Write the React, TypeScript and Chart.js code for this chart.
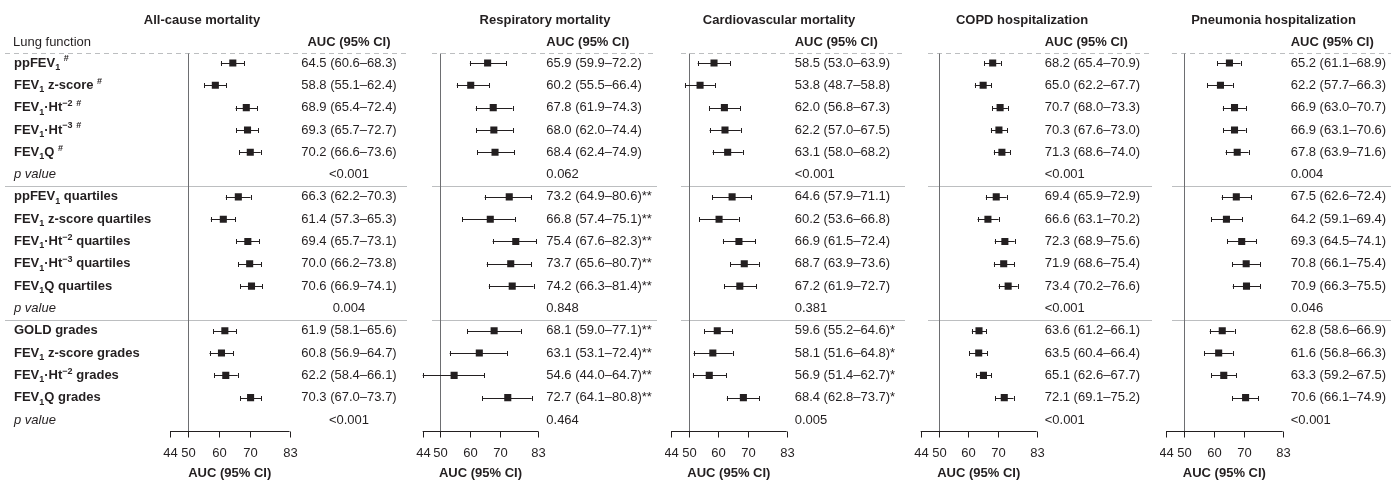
import React, { useEffect, useRef } from "react";
import { Chart, registerables } from "chart.js";
Chart.register(...registerables);

// ---------- data ----------
const PANEL_TITLES = [
  "All-cause mortality",
  "Respiratory mortality",
  "Cardiovascular mortality",
  "COPD hospitalization",
  "Pneumonia hospitalization",
];
const X_TICKS = [44, 50, 60, 70, 83];
const X_MIN = 44;
const X_MAX = 83;
const REF_VALUE = 50;

// row labels (segments: text + kind; "" normal, "sub" subscript, "sup" superscript); null = p value row
type Seg = [string, string];
const ROW_LABELS: (Seg[] | null)[] = [
  [["ppFEV", ""], ["1", "sub"], [" ", ""], ["#", "sup"]],
  [["FEV", ""], ["1", "sub"], [" z-score ", ""], ["#", "sup"]],
  [["FEV", ""], ["1", "sub"], ["·Ht", ""], ["−2", "sup"], [" ", ""], ["#", "sup"]],
  [["FEV", ""], ["1", "sub"], ["·Ht", ""], ["−3", "sup"], [" ", ""], ["#", "sup"]],
  [["FEV", ""], ["1", "sub"], ["Q ", ""], ["#", "sup"]],
  null,
  [["ppFEV", ""], ["1", "sub"], [" quartiles", ""]],
  [["FEV", ""], ["1", "sub"], [" z-score quartiles", ""]],
  [["FEV", ""], ["1", "sub"], ["·Ht", ""], ["−2", "sup"], [" quartiles", ""]],
  [["FEV", ""], ["1", "sub"], ["·Ht", ""], ["−3", "sup"], [" quartiles", ""]],
  [["FEV", ""], ["1", "sub"], ["Q quartiles", ""]],
  null,
  [["GOLD grades", ""]],
  [["FEV", ""], ["1", "sub"], [" z-score grades", ""]],
  [["FEV", ""], ["1", "sub"], ["·Ht", ""], ["−2", "sup"], [" grades", ""]],
  [["FEV", ""], ["1", "sub"], ["Q grades", ""]],
  null,
];
const ESTIMATE_ROWS = [0, 1, 2, 3, 4, 6, 7, 8, 9, 10, 12, 13, 14, 15];
const P_ROWS = [5, 11, 16];

const ALL_EST = [64.5, 58.8, 68.9, 69.3, 70.2, 66.3, 61.4, 69.4, 70.0, 70.6, 61.9, 60.8, 62.2, 70.3];
const ALL_LO = [60.6, 55.1, 65.4, 65.7, 66.6, 62.2, 57.3, 65.7, 66.2, 66.9, 58.1, 56.9, 58.4, 67.0];
const ALL_HI = [68.3, 62.4, 72.4, 72.7, 73.6, 70.3, 65.3, 73.1, 73.8, 74.1, 65.6, 64.7, 66.1, 73.7];
const ALL_P = ["<0.001", "0.004", "<0.001"];
const ALL_SUFFIX = ["", "", ""];

const RESP_EST = [65.9, 60.2, 67.8, 68.0, 68.4, 73.2, 66.8, 75.4, 73.7, 74.2, 68.1, 63.1, 54.6, 72.7];
const RESP_LO = [59.9, 55.5, 61.9, 62.0, 62.4, 64.9, 57.4, 67.6, 65.6, 66.3, 59.0, 53.1, 44.0, 64.1];
const RESP_HI = [72.2, 66.4, 74.3, 74.4, 74.9, 80.6, 75.1, 82.3, 80.7, 81.4, 77.1, 72.4, 64.7, 80.8];
const RESP_P = ["0.062", "0.848", "0.464"];
const RESP_SUFFIX = ["", "**", "**"];

const CV_EST = [58.5, 53.8, 62.0, 62.2, 63.1, 64.6, 60.2, 66.9, 68.7, 67.2, 59.6, 58.1, 56.9, 68.4];
const CV_LO = [53.0, 48.7, 56.8, 57.0, 58.0, 57.9, 53.6, 61.5, 63.9, 61.9, 55.2, 51.6, 51.4, 62.8];
const CV_HI = [63.9, 58.8, 67.3, 67.5, 68.2, 71.1, 66.8, 72.4, 73.6, 72.7, 64.6, 64.8, 62.7, 73.7];
const CV_P = ["<0.001", "0.381", "0.005"];
const CV_SUFFIX = ["", "", "*"];

const COPD_EST = [68.2, 65.0, 70.7, 70.3, 71.3, 69.4, 66.6, 72.3, 71.9, 73.4, 63.6, 63.5, 65.1, 72.1];
const COPD_LO = [65.4, 62.2, 68.0, 67.6, 68.6, 65.9, 63.1, 68.9, 68.6, 70.2, 61.2, 60.4, 62.6, 69.1];
const COPD_HI = [70.9, 67.7, 73.3, 73.0, 74.0, 72.9, 70.2, 75.6, 75.4, 76.6, 66.1, 66.4, 67.7, 75.2];
const COPD_P = ["<0.001", "<0.001", "<0.001"];
const COPD_SUFFIX = ["", "", ""];

const PNEU_EST = [65.2, 62.2, 66.9, 66.9, 67.8, 67.5, 64.2, 69.3, 70.8, 70.9, 62.8, 61.6, 63.3, 70.6];
const PNEU_LO = [61.1, 57.7, 63.0, 63.1, 63.9, 62.6, 59.1, 64.5, 66.1, 66.3, 58.6, 56.8, 59.2, 66.1];
const PNEU_HI = [68.9, 66.3, 70.7, 70.6, 71.6, 72.4, 69.4, 74.1, 75.4, 75.5, 66.9, 66.3, 67.5, 74.9];
const PNEU_P = ["0.004", "0.046", "<0.001"];
const PNEU_SUFFIX = ["", "", ""];

const PANEL_DATA = [
  { est: ALL_EST, lo: ALL_LO, hi: ALL_HI, p: ALL_P, suffix: ALL_SUFFIX },
  { est: RESP_EST, lo: RESP_LO, hi: RESP_HI, p: RESP_P, suffix: RESP_SUFFIX },
  { est: CV_EST, lo: CV_LO, hi: CV_HI, p: CV_P, suffix: CV_SUFFIX },
  { est: COPD_EST, lo: COPD_LO, hi: COPD_HI, p: COPD_P, suffix: COPD_SUFFIX },
  { est: PNEU_EST, lo: PNEU_LO, hi: PNEU_HI, p: PNEU_P, suffix: PNEU_SUFFIX },
];

// ---------- layout / style ----------
const H = 482;
const CANVAS_LEFT = [0, 415, 665, 912, 1160];
const CANVAS_RIGHT = [415, 665, 912, 1160, 1391];
const AXIS_LEFT = [170, 422.7, 671, 920.7, 1166];
const AXIS_RIGHT = [289.5, 538.3, 786.7, 1036.7, 1282.7];
const SEP_LEFT = [5, 432, 681, 928, 1172];
const SEP_RIGHT = [407, 657, 905, 1152, 1391];
const TITLE_CENTER = [202, 545, 779, 1022, 1273.5];
const ROW0 = 63;
const ROW_STEP = 22.31;
const FF = '"Liberation Sans", Arial, Helvetica, sans-serif';
const INK = "#231f20";
const REF_COLOR = "#6d6e71";
const SEP_COLOR = "#bcbec0";

function blockOf(i: number) {
  return i < 5 ? 0 : i < 10 ? 1 : 2;
}

function drawRich(ctx: CanvasRenderingContext2D, segs: Seg[], x: number, y: number) {
  let cx = x;
  for (const [t, k] of segs) {
    if (k === "sub") {
      ctx.font = `bold 9px ${FF}`;
      ctx.fillText(t, cx, y + 4.5);
    } else if (k === "sup") {
      ctx.font = `bold 9px ${FF}`;
      ctx.fillText(t, cx, y - 4);
    } else {
      ctx.font = `bold 13px ${FF}`;
      ctx.fillText(t, cx, y);
    }
    cx += ctx.measureText(t).width;
  }
}

function Panel({ idx }: { idx: number }) {
  const ref = useRef<HTMLCanvasElement>(null);
  const w = CANVAS_RIGHT[idx] - CANVAS_LEFT[idx];
  useEffect(() => {
    const d = PANEL_DATA[idx];
    const off = CANVAS_LEFT[idx];
    const points = d.est.map((v, i) => ({ x: v, y: ESTIMATE_ROWS[i] }));
    const top = ROW0 - 0.5 * ROW_STEP;
    const bottom = ROW0 + 16.5 * ROW_STEP;

    const forest = {
      id: "forest",
      beforeDatasetsDraw(chart: any) {
        const ctx: CanvasRenderingContext2D = chart.ctx;
        const xs = chart.scales.x;
        const ys = chart.scales.y;
        ctx.save();
        // top dashed line
        const dashY = Math.round(ys.getPixelForValue(-0.45)) + 0.5;
        ctx.strokeStyle = SEP_COLOR;
        ctx.lineWidth = 1;
        ctx.setLineDash([5, 4]);
        ctx.beginPath();
        ctx.moveTo(SEP_LEFT[idx] - off, dashY);
        ctx.lineTo(SEP_RIGHT[idx] - off, dashY);
        ctx.stroke();
        ctx.setLineDash([]);
        // block separators
        [5.5, 11.5].forEach((r) => {
          const y = Math.round(ys.getPixelForValue(r)) + 0.5;
          ctx.beginPath();
          ctx.moveTo(SEP_LEFT[idx] - off, y);
          ctx.lineTo(SEP_RIGHT[idx] - off, y);
          ctx.stroke();
        });
        // reference line at 50
        const axisY = Math.round(ys.getPixelForValue(16.5)) + 0.5;
        const rx = Math.round(xs.getPixelForValue(REF_VALUE)) + 0.5;
        ctx.strokeStyle = REF_COLOR;
        ctx.beginPath();
        ctx.moveTo(rx, dashY);
        ctx.lineTo(rx, axisY);
        ctx.stroke();
        // x axis
        ctx.strokeStyle = INK;
        ctx.beginPath();
        ctx.moveTo(xs.getPixelForValue(X_MIN), axisY);
        ctx.lineTo(xs.getPixelForValue(X_MAX), axisY);
        ctx.stroke();
        ctx.fillStyle = INK;
        ctx.textAlign = "center";
        ctx.textBaseline = "middle";
        ctx.font = `13px ${FF}`;
        X_TICKS.forEach((t) => {
          const tx = Math.round(xs.getPixelForValue(t)) + 0.5;
          ctx.beginPath();
          ctx.moveTo(tx, axisY);
          ctx.lineTo(tx, axisY + 6);
          ctx.stroke();
          ctx.fillText(String(t), tx, axisY + 21.5);
        });
        ctx.font = `bold 13px ${FF}`;
        ctx.fillText("AUC (95% CI)", (xs.getPixelForValue(X_MIN) + xs.getPixelForValue(X_MAX)) / 2, axisY + 41.5);
        // title
        ctx.fillText(PANEL_TITLES[idx], TITLE_CENTER[idx] - off, 20);
        // column header
        const textX = xs.getPixelForValue(X_MAX) + 8;
        const centerX = xs.getPixelForValue(X_MAX) + 59.5;
        if (idx === 0) {
          ctx.fillText("AUC (95% CI)", centerX, 42);
          ctx.textAlign = "left";
          ctx.font = `13px ${FF}`;
          ctx.fillText("Lung function", 13, 42);
        } else {
          ctx.textAlign = "left";
          ctx.fillText("AUC (95% CI)", textX, 42);
        }
        // whiskers
        ctx.strokeStyle = INK;
        ctx.lineWidth = 1;
        d.est.forEach((_, i) => {
          const y = Math.round(ys.getPixelForValue(ESTIMATE_ROWS[i])) + 0.5;
          const x1 = xs.getPixelForValue(d.lo[i]);
          const x2 = xs.getPixelForValue(d.hi[i]);
          ctx.beginPath();
          ctx.moveTo(x1, y);
          ctx.lineTo(x2, y);
          ctx.moveTo(Math.round(x1) + 0.5, y - 2.5);
          ctx.lineTo(Math.round(x1) + 0.5, y + 2.5);
          ctx.moveTo(Math.round(x2) + 0.5, y - 2.5);
          ctx.lineTo(Math.round(x2) + 0.5, y + 2.5);
          ctx.stroke();
        });
        // value text
        ctx.font = `13px ${FF}`;
        ctx.textAlign = idx === 0 ? "center" : "left";
        const vx = idx === 0 ? centerX : textX;
        d.est.forEach((v, i) => {
          const y = ys.getPixelForValue(ESTIMATE_ROWS[i]);
          const s = `${v.toFixed(1)} (${d.lo[i].toFixed(1)}–${d.hi[i].toFixed(1)})${d.suffix[blockOf(i)]}`;
          ctx.fillText(s, vx, y);
        });
        d.p.forEach((pv, b) => {
          ctx.fillText(pv, vx, ys.getPixelForValue(P_ROWS[b]));
        });
        // row labels (first panel)
        if (idx === 0) {
          ctx.textAlign = "left";
          ROW_LABELS.forEach((segs, r) => {
            const y = ys.getPixelForValue(r);
            if (segs) {
              drawRich(ctx, segs, 14, y);
            } else {
              ctx.font = `italic 13px ${FF}`;
              ctx.fillText("p value", 14, y);
            }
          });
        }
        ctx.restore();
      },
    };

    const chart = new Chart(ref.current!, {
      type: "scatter",
      data: {
        datasets: [
          {
            data: points,
            pointStyle: "rect",
            pointRadius: 5,
            pointHoverRadius: 5,
            pointBorderWidth: 0,
            backgroundColor: INK,
            borderColor: INK,
          },
        ],
      },
      options: {
        responsive: false,
        animation: false,
        devicePixelRatio: 1,
        events: [],
        layout: {
          padding: {
            left: AXIS_LEFT[idx] - off,
            right: CANVAS_RIGHT[idx] - AXIS_RIGHT[idx],
            top: top,
            bottom: H - bottom,
          },
        },
        plugins: { legend: { display: false }, tooltip: { enabled: false } },
        scales: {
          x: { type: "linear", min: X_MIN, max: X_MAX, display: false },
          y: { type: "linear", min: -0.5, max: 16.5, reverse: true, display: false },
        },
      },
      plugins: [forest],
    } as any);
    return () => chart.destroy();
  }, [idx]);
  return (
    <canvas
      ref={ref}
      width={w}
      height={H}
      style={{ position: "absolute", left: CANVAS_LEFT[idx], top: 0, width: w, height: H }}
    />
  );
}

export default function App() {
  return (
    <div style={{ position: "absolute", left: 0, top: 0, width: 1391, height: H, background: "#fff" }}>
      {PANEL_TITLES.map((_, i) => (
        <Panel key={i} idx={i} />
      ))}
    </div>
  );
}
